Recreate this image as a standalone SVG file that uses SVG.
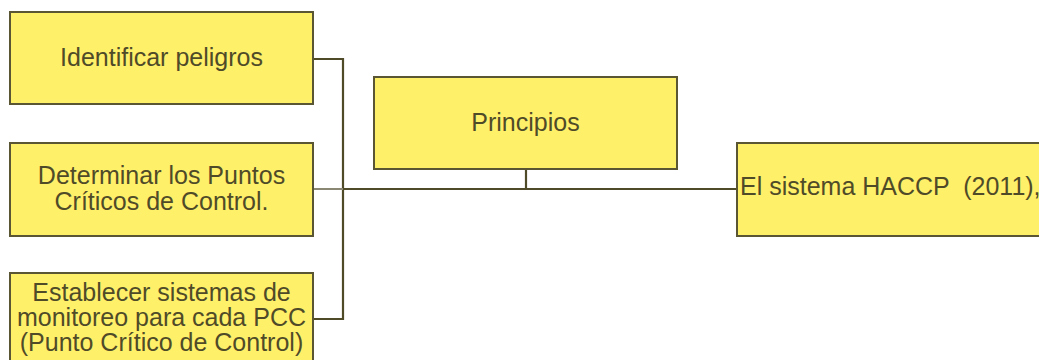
<svg xmlns="http://www.w3.org/2000/svg" width="1039" height="360" viewBox="0 0 1039 360">
  <style>
    .box { fill: #fff06a; stroke: #5a5532; stroke-width: 2; }
    .lbl { font-family: "Liberation Sans", Arial, sans-serif; font-size: 25px; fill: #4f4b28; text-anchor: middle; }
    .lbl-left { text-anchor: start; }
    .wire { fill: none; stroke: #4f4b28; stroke-width: 2.2; }
    .wire-light { fill: none; stroke: #8a8874; stroke-width: 2; }
  </style>

  <!-- connectors -->
  <g id="connectors">
    <polyline class="wire" points="313,59 343,59 343,319 313,319"/>
    <line class="wire-light" x1="313" y1="189" x2="343" y2="189"/>
    <line class="wire" x1="343" y1="189" x2="737" y2="189"/>
    <line class="wire" x1="526" y1="169" x2="526" y2="189"/>
  </g>

  <g id="identificar">
    <rect class="box" x="10" y="12" width="303" height="92"/>
    <text class="lbl" x="161.5" y="66">Identificar peligros</text>
  </g>

  <g id="determinar">
    <rect class="box" x="10" y="143" width="303" height="93"/>
    <text class="lbl" x="161.5" y="184">Determinar los Puntos</text>
    <text class="lbl" x="161.5" y="210">Críticos de Control.</text>
  </g>

  <g id="establecer">
    <rect class="box" x="10" y="273" width="303" height="100"/>
    <text class="lbl" x="161.5" y="301">Establecer sistemas de</text>
    <text class="lbl" x="161.5" y="326">monitoreo para cada PCC</text>
    <text class="lbl" x="161.5" y="351">(Punto Crítico de Control)</text>
  </g>

  <g id="principios">
    <rect class="box" x="374" y="77" width="303" height="92"/>
    <text class="lbl" x="525.5" y="131">Principios</text>
  </g>

  <g id="haccp">
    <rect class="box" x="737" y="143" width="310" height="93"/>
    <text class="lbl lbl-left" x="740" y="195" xml:space="preserve">El sistema HACCP  (2011),</text>
  </g>
</svg>
